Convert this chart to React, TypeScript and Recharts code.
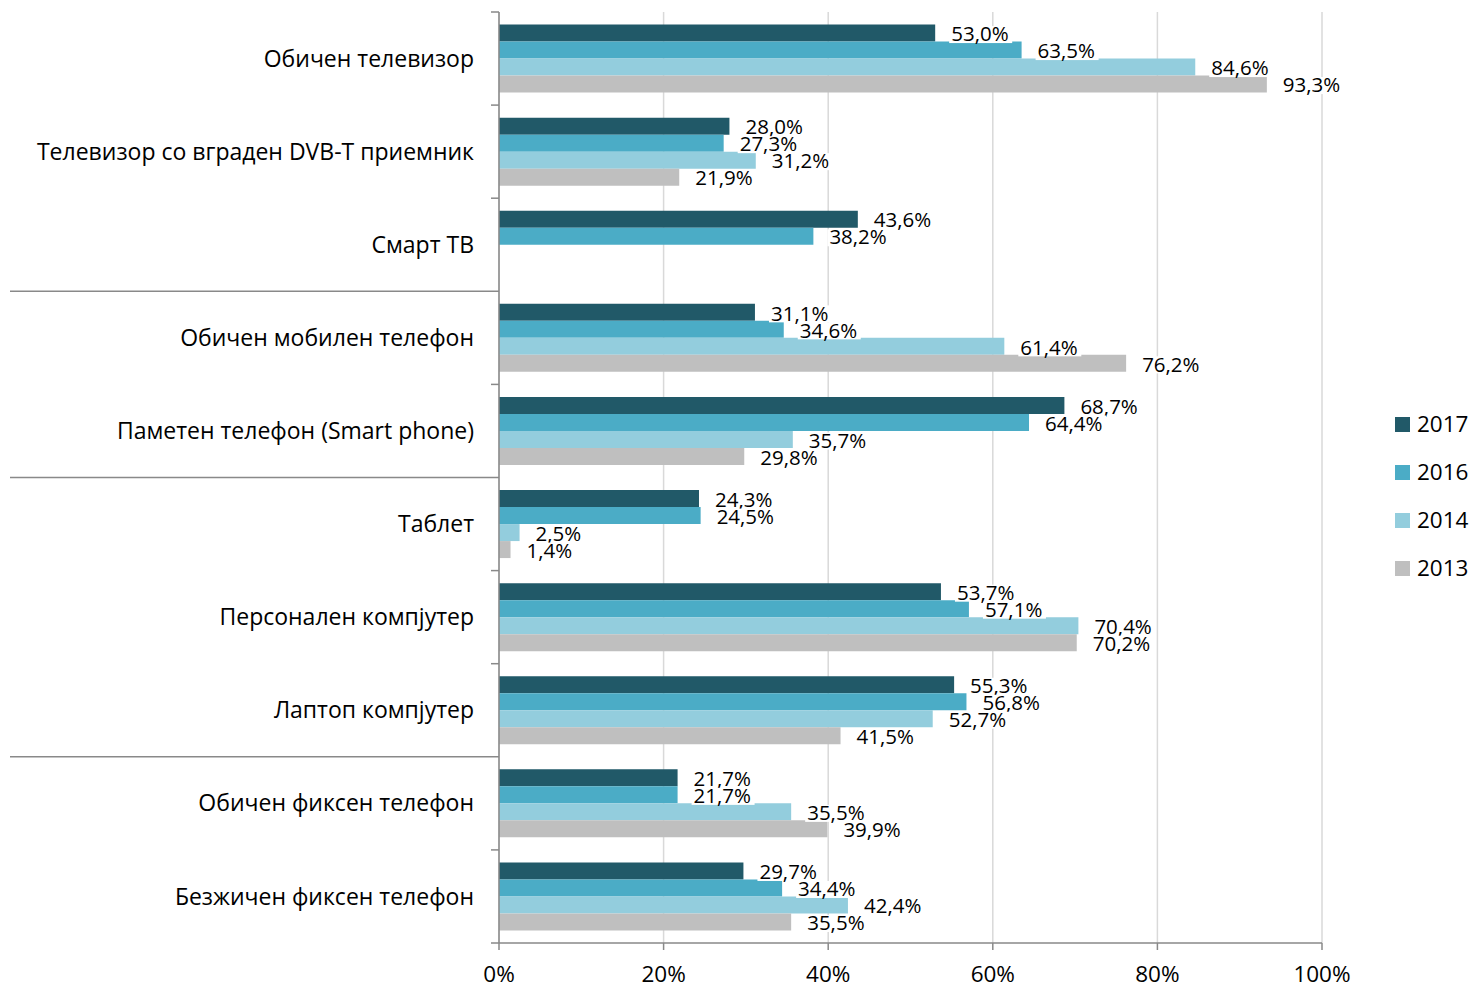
import React from "react";
import {
  Bar,
  BarChart,
  CartesianGrid,
  LabelList,
  XAxis,
  YAxis,
} from "recharts";

const CATEGORIES = [
  "Обичен телевизор",
  "Телевизор со вграден DVB-T приемник",
  "Смарт ТВ",
  "Обичен мобилен телефон",
  "Паметен телефон (Smart phone)",
  "Таблет",
  "Персонален компјутер",
  "Лаптоп компјутер",
  "Обичен фиксен телефон",
  "Безжичен фиксен телефон",
];

const Y2017 = [53.0, 28.0, 43.6, 31.1, 68.7, 24.3, 53.7, 55.3, 21.7, 29.7];
const Y2016 = [63.5, 27.3, 38.2, 34.6, 64.4, 24.5, 57.1, 56.8, 21.7, 34.4];
const Y2014 = [84.6, 31.2, null, 61.4, 35.7, 2.5, 70.4, 52.7, 35.5, 42.4];
const Y2013 = [93.3, 21.9, null, 76.2, 29.8, 1.4, 70.2, 41.5, 39.9, 35.5];

const X_TICKS = [0, 20, 40, 60, 80, 100];
// a category index that opens a new group gets a long separator line above it
const GROUP_STARTS = [3, 5, 8];

const SERIES = [
  { key: "y2017", name: "2017", color: "#215968" },
  { key: "y2016", name: "2016", color: "#4bacc6" },
  { key: "y2014", name: "2014", color: "#93cddd" },
  { key: "y2013", name: "2013", color: "#bfbfbf" },
];

const FONT = "'Open Sans', 'Noto Sans', sans-serif";
const AXIS_STROKE = "#898989";
const GRID_STROKE = "#d9d9d9";

const CHART_W = 1471;
const CHART_H = 989;
const MARGIN = { top: 12, right: 149, bottom: 0, left: 10 };
const Y_AXIS_W = 489;
const X_AXIS_H = 46;
const PLOT_H = CHART_H - MARGIN.top - MARGIN.bottom - X_AXIS_H;

const data = CATEGORIES.map((name, i) => ({
  name,
  y2017: Y2017[i],
  y2016: Y2016[i],
  y2014: Y2014[i],
  y2013: Y2013[i],
}));

const fmt = (v: number) => `${v.toFixed(1).replace(".", ",")}%`;

function CategoryTick(props: any) {
  const { x, y, payload, index } = props;
  const half =
    payload && payload.offset > 0 ? payload.offset : PLOT_H / CATEGORIES.length / 2;
  const axisX = x + 25;
  const top = y - half;
  const long = GROUP_STARTS.includes(index);
  return (
    <g>
      <line
        x1={long ? MARGIN.left : axisX - 8}
        x2={axisX}
        y1={top}
        y2={top}
        stroke={AXIS_STROKE}
        strokeWidth={1.5}
      />
      {index === CATEGORIES.length - 1 ? (
        <line x1={axisX - 8} x2={axisX} y1={y + half} y2={y + half} stroke={AXIS_STROKE} strokeWidth={1.5} />
      ) : null}
      <text
        x={x}
        y={y}
        dy="0.35em"
        textAnchor="end"
        fontFamily={FONT}
        fontSize={23}
        fill="#000"
      >
        {payload.value}
      </text>
    </g>
  );
}

function ValueLabel(props: any) {
  const { x, y, width, height, value } = props;
  if (value == null) return null;
  const text = fmt(Number(value));
  const tx = x + width + 16;
  const cy = y + height / 2 + 1;
  const tw = text.length * 11.8;
  return (
    <g>
      <rect x={tx - 2} y={cy - 8} width={tw + 4} height={17} fill="#fff" />
      <text x={tx} y={cy} dy="0.35em" fontFamily={FONT} fontSize={20.5} fill="#000">
        {text}
      </text>
    </g>
  );
}

function LegendBox() {
  return (
    <div
      style={{
        position: "absolute",
        left: 1395,
        top: 400,
        fontFamily: FONT,
        fontSize: 22.5,
        lineHeight: 1,
      }}
    >
      {SERIES.map((s) => (
        <div
          key={s.key}
          style={{ display: "flex", alignItems: "center", height: 48 }}
        >
          <span
            style={{
              width: 15,
              height: 15,
              background: s.color,
              display: "inline-block",
              marginRight: 7,
            }}
          />
          <span>{s.name}</span>
        </div>
      ))}
    </div>
  );
}

export default function App() {
  return (
    <div
      style={{
        position: "absolute",
        left: 0,
        top: 0,
        width: CHART_W,
        height: CHART_H,
        background: "#fff",
      }}
    >
      <BarChart
        width={CHART_W}
        height={CHART_H}
        data={data}
        layout="vertical"
        margin={MARGIN}
        barCategoryGap="13.5%"
        barGap={0}
      >
        <CartesianGrid horizontal={false} stroke={GRID_STROKE} strokeWidth={1.5} />
        <XAxis
          type="number"
          domain={[0, 100]}
          ticks={X_TICKS}
          tickFormatter={(v) => `${v}%`}
          height={X_AXIS_H}
          stroke={AXIS_STROKE}
          strokeWidth={1.5}
          tickSize={7}
          tickMargin={16}
          tick={{ fill: "#000", fontFamily: FONT, fontSize: 22.5 }}
          interval={0}
        />
        <YAxis
          type="category"
          dataKey="name"
          width={Y_AXIS_W}
          stroke={AXIS_STROKE}
          strokeWidth={1.5}
          tickLine={false}
          tickSize={0}
          tickMargin={25}
          interval={0}
          tick={<CategoryTick />}
        />
        {SERIES.map((s) => (
          <Bar
            key={s.key}
            dataKey={s.key}
            name={s.name}
            fill={s.color}
            isAnimationActive={false}
          >
            <LabelList dataKey={s.key} content={<ValueLabel />} />
          </Bar>
        ))}
      </BarChart>
      <LegendBox />
    </div>
  );
}
